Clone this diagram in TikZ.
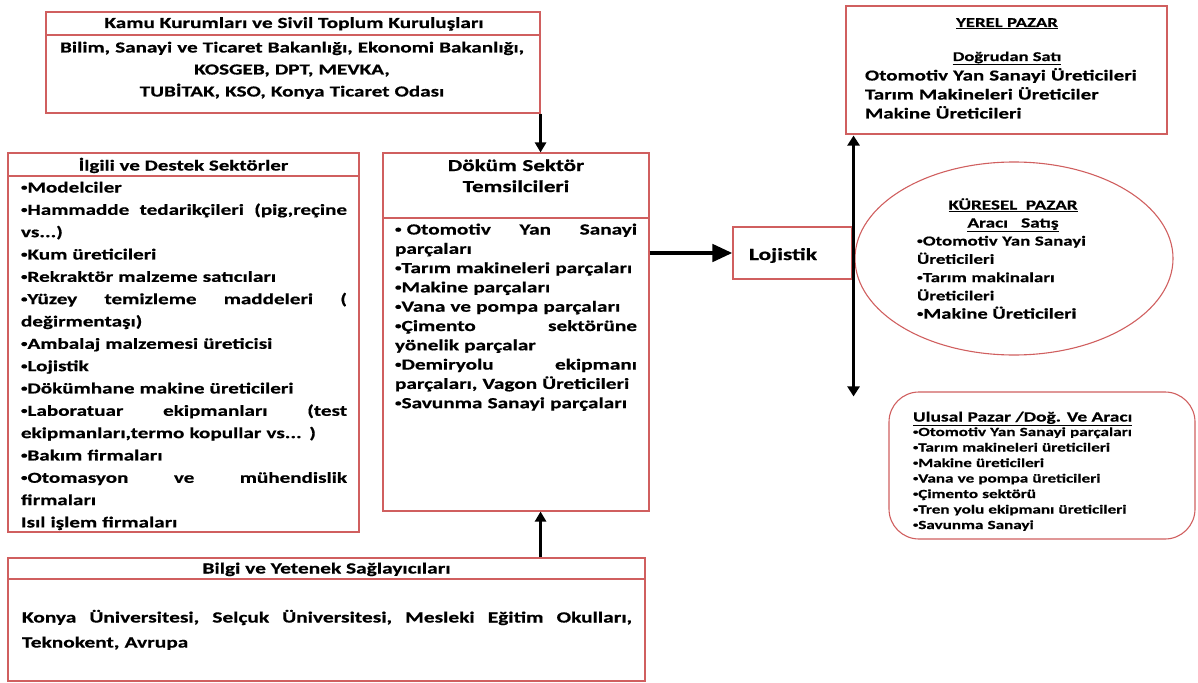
\documentclass[tikz,border=0pt]{standalone}
\usepackage{fontspec}
\usepackage{graphicx}
\setmainfont{Carlito}
\newfontfamily\wide{Carlito}[FakeStretch=1.38, BoldFeatures={FakeBold=0.6}]
\usetikzlibrary{arrows.meta,shapes.geometric,calc}
\definecolor{boxred}{RGB}{208,95,95}
\newcommand{\jl}[1]{\leavevmode\hbox to \linewidth{#1}}
\newcommand{\fw}[2]{\wide\fontsize{#1}{#2}\selectfont\bfseries}
\newcommand{\bul}{\raisebox{0.28ex}{\scalebox{0.62}{•}}}
\tikzset{
  frame/.style={draw=boxred, line width=1.1pt, inner sep=0pt},
  divider/.style={draw=boxred, line width=1.1pt},
  txt/.style={inner sep=0pt, outer sep=0pt, text=black},
  arr/.style={line width=3pt, -{Triangle[length=10pt,width=11pt]}},
  bigarr/.style={line width=4.5pt, -{Triangle[length=20pt,width=17pt]}},
  dblarr/.style={line width=3.5pt, {Triangle[length=10pt,width=12pt]}-{Triangle[length=10pt,width=12pt]}}
}
\begin{document}
\begin{tikzpicture}[x=1pt,y=-1pt]
\useasboundingbox (0,0) rectangle (1198,682);
% boxes
\node[frame, minimum width=494pt, minimum height=101pt] (kamu) at (293,62.5) {};
\node[frame, minimum width=351pt, minimum height=379pt] (ilgili) at (183.5,342.5) {};
\node[frame, minimum width=266pt, minimum height=358pt] (dokum) at (516,332) {};
\node[frame, minimum width=119pt, minimum height=52pt] (loj) at (792.5,253) {};
\node[frame, minimum width=321pt, minimum height=128pt] (yerel) at (1006.5,70) {};
\node[frame, ellipse, minimum width=318pt, minimum height=193pt] (kuresel) at (1014,258.5) {};
\node[frame, rounded corners=30pt, minimum width=306pt, minimum height=147pt] (ulusal) at (1042,465.5) {};
\node[frame, minimum width=637pt, minimum height=123pt] (bilgi) at (326.5,619.5) {};
% dividers
\draw[divider] (kamu.west |- 0,35) -- (kamu.east |- 0,35);
\draw[divider] (ilgili.west |- 0,176) -- (ilgili.east |- 0,176);
\draw[divider] (dokum.west |- 0,218) -- (dokum.east |- 0,218);
\draw[divider] (bilgi.west |- 0,579) -- (bilgi.east |- 0,579);
% Kamu
\node[txt, anchor=base, font=\fw{15.4}{18}] (kamuh) at (294,28) {Kamu Kurumları ve Sivil Toplum Kuruluşları};
\node[txt, anchor=base, text width=490pt, align=center, font=\fw{15.3}{22}] (kamub) at (292,52.5)
 {Bilim, Sanayi ve Ticaret Bakanlığı, Ekonomi Bakanlığı,\\KOSGEB, DPT, MEVKA,\\TUBİTAK, KSO, Konya Ticaret Odası};
% Ilgili
\node[txt, anchor=base, font=\fw{15.2}{20}] (ilgilih) at (183.5,170.5) {İlgili ve Destek Sektörler};
\node[txt, anchor=base west, text width=326pt, align=left, font=\fw{15.3}{22.33}] (ilgilib) at (21,192.5)
 {\bul Modelciler\\
  \jl{\bul Hammadde\hfill tedarikçileri\hfill (pig,reçine}\\
  vs...)\\
  \bul Kum üreticileri\\
  \bul Rekraktör malzeme satıcıları\\
  \jl{\bul Yüzey\hfill temizleme\hfill maddeleri\hfill (}\\
  değirmentaşı)\\
  \bul Ambalaj malzemesi üreticisi\\
  \bul Lojistik\\
  \bul Dökümhane makine üreticileri\\
  \jl{\bul Laboratuar\hfill ekipmanları\hfill (test}\\
  ekipmanları,termo kopullar vs... )\\
  \bul Bakım firmaları\\
  \jl{\bul Otomasyon\hfill ve\hfill mühendislik}\\
  firmaları\\
  Isıl işlem firmaları};
% Dokum
\node[txt, anchor=base, text width=260pt, align=center, font=\fw{16.7}{21}] (dokumh) at (516,171)
 {Döküm Sektör\\Temsilcileri};
\node[txt, anchor=base west, text width=242pt, align=left, font=\fw{15.4}{19.3}] (dokumb) at (395,234.5)
 {\jl{\bul\ Otomotiv\hfill Yan\hfill Sanayi}\\
  parçaları\\
  \bul Tarım makineleri parçaları\\
  \bul Makine parçaları\\
  \bul Vana ve pompa parçaları\\
  \jl{\bul Çimento\hfill sektörüne}\\
  yönelik parçalar\\
  \jl{\bul Demiryolu\hfill ekipmanı}\\
  parçaları, Vagon Üreticileri\\
  \bul Savunma Sanayi parçaları};
% Lojistik
\node[txt, anchor=base west, font=\fw{17}{20}] (lojt) at (749,260) {Lojistik};
% Yerel
\node[txt, anchor=base, font=\fw{13.6}{16}] (yerelh) at (1007,27) {\underline{YEREL PAZAR}};
\node[txt, anchor=base, font=\fw{13.4}{16}] (yerels) at (1007,61) {\underline{Doğrudan Satı}};
\node[txt, anchor=base west, text width=300pt, align=left, font=\fw{15.2}{19}] (yerelb) at (865,80.5)
 {Otomotiv Yan Sanayi Üreticileri\\Tarım Makineleri Üreticiler\\Makine Üreticileri};
% Kuresel
\node[txt, anchor=base, font=\fw{13.8}{17}] (kureselh) at (1013,209.5) {\underline{KÜRESEL\ \ PAZAR}};
\node[txt, anchor=base, font=\fw{14}{17}] (kuresels) at (1013,227.5) {\underline{Aracı\ \ \ Satış}};
\node[txt, anchor=base west, text width=220pt, align=left, font=\fw{13.7}{18.3}] (kureselb) at (917,245.5)
 {\bul Otomotiv Yan Sanayi\\Üreticileri\\\bul Tarım makinaları\\Üreticileri\\{\fw{14.9}{18.3}\bul Makine Üreticileri}};
% Ulusal
\node[txt, anchor=base west, font=\fw{14.1}{16}] (ulusalh) at (913,421.5) {\underline{Ulusal Pazar /Doğ. Ve Aracı}};
\node[txt, anchor=base west, text width=280pt, align=left, font=\fw{12.4}{15.5}] (ulusalb) at (913,436)
 {\bul Otomotiv Yan Sanayi parçaları\\\bul Tarım makineleri üreticileri\\\bul Makine üreticileri\\\bul Vana ve pompa üreticileri\\\bul Çimento sektörü\\\bul Tren yolu ekipmanı üreticileri\\\bul Savunma Sanayi};
% Bilgi
\node[txt, anchor=base, font=\fw{15.5}{18}] (bilgih) at (326.5,573.5) {Bilgi ve Yetenek Sağlayıcıları};
\node[txt, anchor=base west, text width=610pt, align=left, font=\fw{15.5}{25}] (bilgib) at (22,622.5)
 {\jl{Konya\hfill Üniversitesi,\hfill Selçuk\hfill Üniversitesi,\hfill Mesleki\hfill Eğitim\hfill Okulları,}\\Teknokent, Avrupa};
% connectors
\draw[arr] (kamu.south east) -- (kamu.south east |- dokum.north);
\draw[arr] (bilgi.north -| kamu.east) -- (dokum.south -| kamu.east);
\draw[bigarr] (dokum.east |- loj.west) -- (loj.west);
\draw[dblarr] ($(loj.east |- yerel.south)+(1,1)$) -- ($(loj.east |- ulusal.north)+(1,5)$);
\end{tikzpicture}
\end{document}
